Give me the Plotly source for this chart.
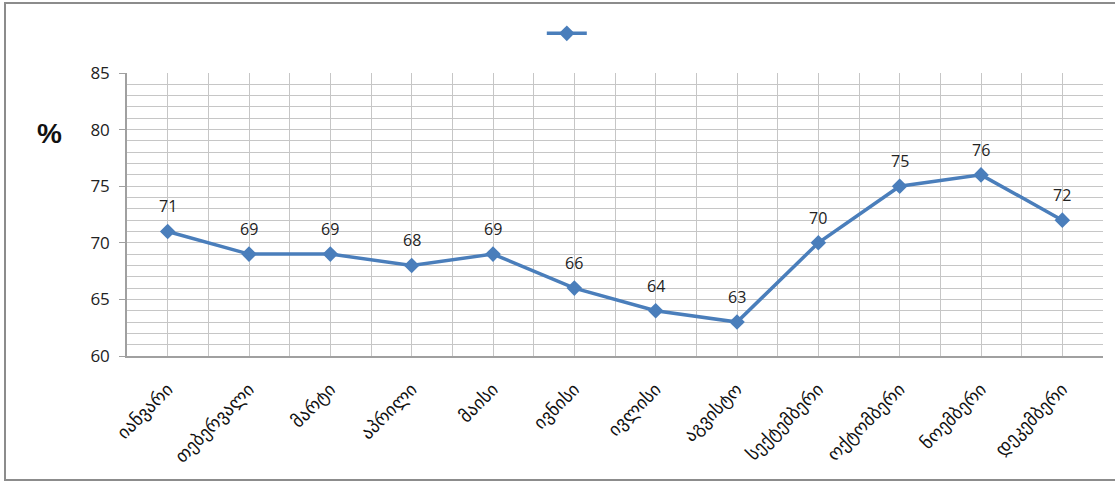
import plotly.graph_objects as go

months = ["იანვარი", "თებერვალი", "მარტი", "აპრილი", "მაისი", "ივნისი",
          "ივლისი", "აგვისტო", "სექტემბერი", "ოქტომბერი", "ნოემბერი", "დეკემბერი"]
values = [71, 69, 69, 68, 69, 66, 64, 63, 70, 75, 76, 72]
y_ticks = [60, 65, 70, 75, 80, 85]

positions = list(range(len(months)))
blue = "#4a7ebb"
grid = "#c6c6c6"
num_font = "Open Sans, Liberation Sans, sans-serif"

fig = go.Figure()
fig.add_trace(go.Scatter(
    x=positions, y=values, name=" ",
    mode="lines+markers",
    line=dict(color=blue, width=3.5),
    marker=dict(symbol="diamond", size=12, color=blue),
    cliponaxis=False,
))

# value labels above each point
labels = [dict(x=p, y=v, text=str(v), showarrow=False, yshift=25,
               font=dict(family=num_font, size=16, color="#222222"))
          for p, v in zip(positions, values)]

labels.append(dict(text="<b>%</b>", xref="paper", yref="paper",
                   x=-0.079, y=0.785, xanchor="center", yanchor="middle", showarrow=False,
                   font=dict(family="Liberation Sans, Arial, sans-serif", size=28, color="#111111")))

fig.update_layout(
    width=1115, height=482,
    margin=dict(l=127, r=12, t=73, b=126, autoexpand=False),
    paper_bgcolor="white", plot_bgcolor="white",
    showlegend=True,
    legend=dict(orientation="h", x=0.425, y=1.14, xanchor="left", yanchor="middle",
                font=dict(size=13), bgcolor="rgba(0,0,0,0)", itemwidth=40),
    xaxis=dict(
        range=[-0.5, 11.5], tickvals=positions, ticktext=months,
        tickangle=-45, showgrid=True, gridcolor=grid, gridwidth=1,
        minor=dict(dtick=0.5, tick0=-0.5, showgrid=True, gridcolor=grid, gridwidth=1),
        showline=True, linecolor="#a0a0a0", linewidth=1.5, mirror=False,
        ticks="", zeroline=False, automargin=False, ticklabelstandoff=14,
        tickfont=dict(family="DejaVu Sans, sans-serif", size=18, color="#111111"),
    ),
    yaxis=dict(
        range=[60, 85], tickvals=y_ticks, showgrid=True, gridcolor=grid, gridwidth=1,
        minor=dict(dtick=1, tick0=60, showgrid=True, gridcolor=grid, gridwidth=1),
        showline=True, linecolor="#a0a0a0", linewidth=1.5,
        ticks="outside", ticklen=6, tickcolor="#a0a0a0",
        zeroline=False, automargin=False, ticklabelstandoff=6,
        tickfont=dict(family=num_font, size=17, color="#222222"),
    ),
    shapes=[dict(type="rect", xref="paper", yref="paper",
                 x0=-0.125, x1=1.02, y0=-0.438, y1=1.247,
                 line=dict(color="#8c8c8c", width=2), layer="below")],
    annotations=labels,
)

fig.write_html("out.html")
